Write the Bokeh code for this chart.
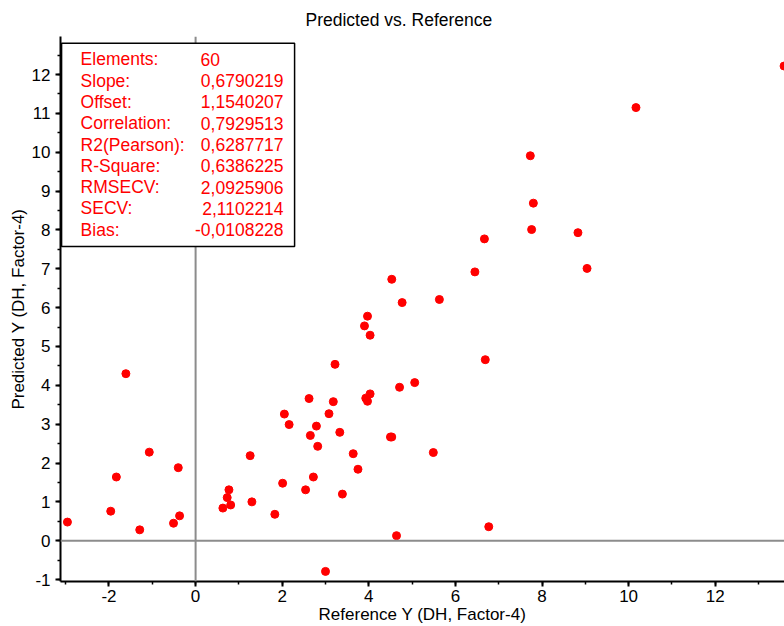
from bokeh.plotting import figure
from bokeh.models import (Span, BoxAnnotation, Label, SingleIntervalTicker, Range1d,
                          ColumnDataSource, CustomJSTickFormatter)
from bokeh.embed import file_html
from bokeh.resources import INLINE

# ---- data ----
reference_y = [-2.96, -1.96, -1.83, -1.61, -1.29, -1.07, -0.51, -0.40, -0.37, 0.63,
               0.73, 0.77, 0.81, 1.26, 1.30, 1.83, 2.01, 2.05, 2.16, 2.54,
               2.62, 2.65, 2.72, 2.79, 2.82, 3.08, 3.18, 3.22, 3.33, 3.39,
               3.00, 3.64, 3.75, 3.90, 3.97, 4.03, 3.93, 3.97, 4.03, 4.53,
               4.50, 4.53, 4.64, 4.71, 4.77, 5.63, 6.45, 9.04, 6.69, 5.06,
               5.49, 6.77, 13.59, 10.17, 7.73, 7.80, 7.76, 8.83, 6.67]
predicted_y = [0.48, 0.76, 1.64, 4.30, 0.28, 2.28, 0.45, 1.88, 0.64, 0.84,
               1.11, 1.31, 0.92, 2.19, 1.00, 0.68, 1.48, 3.26, 2.99, 1.31,
               3.66, 2.71, 1.64, 2.95, 2.43, 3.27, 3.58, 4.54, 2.79, 1.20,
               -0.79, 2.24, 1.84, 5.53, 5.78, 5.29, 3.67, 3.59, 3.78, 6.73,
               2.67, 2.67, 0.13, 3.95, 6.13, 6.21, 6.92, 7.01, 4.66, 4.07,
               2.27, 0.36, 12.22, 11.15, 9.91, 8.69, 8.01, 7.93, 7.77]

stat_names = ["Elements:", "Slope:", "Offset:", "Correlation:", "R2(Pearson):",
              "R-Square:", "RMSECV:", "SECV:", "Bias:"]
stat_values = ["60", "0,6790219", "1,1540207", "0,7929513", "0,6287717",
               "0,6386225", "2,0925906", "2,1102214", "-0,0108228"]

title_text = "Predicted vs. Reference"
x_label = "Reference Y (DH, Factor-4)"
y_label = "Predicted Y (DH, Factor-4)"

FONT = "Liberation Sans"

p = figure(width=784, height=626, output_backend="svg", toolbar_location=None,
           x_range=Range1d(-3.12, 13.6), y_range=Range1d(-1.05, 12.98),
           min_border_left=60, min_border_right=0, min_border_top=36, min_border_bottom=0,
           background_fill_color="white", border_fill_color="white")
p.outline_line_color = None
p.grid.visible = False

p.title.text = title_text
p.title.text_font = FONT
p.title.text_font_size = "17.5px"
p.title.text_font_style = "normal"
p.title.text_color = "black"
p.title.align = "left"
p.title.offset = 245
p.title.standoff = 13

p.xaxis.ticker = SingleIntervalTicker(interval=2, num_minor_ticks=2)
p.yaxis.ticker = SingleIntervalTicker(interval=1, num_minor_ticks=2)
p.xaxis.axis_label = x_label
p.yaxis.axis_label = y_label
for ax in (p.xaxis, p.yaxis):
    ax.formatter = CustomJSTickFormatter(code="return tick.toFixed(0);")
    ax.axis_line_width = 2
    ax.axis_line_color = "black"
    ax.major_tick_line_width = 2
    ax.minor_tick_line_width = 1.5
    ax.major_tick_out = 5
    ax.major_tick_in = 0
    ax.minor_tick_out = 3
    ax.minor_tick_in = 0
    ax.major_label_text_font = FONT
    ax.major_label_text_font_size = "17px"
    ax.major_label_text_color = "black"
    ax.axis_label_text_font = FONT
    ax.axis_label_text_font_size = "17px"
    ax.axis_label_text_font_style = "normal"
    ax.axis_label_text_color = "black"
p.xaxis.major_label_standoff = 3
p.xaxis.axis_label_standoff = 0
p.yaxis.major_label_standoff = 5
p.yaxis.axis_label_standoff = 1

# zero lines
p.add_layout(Span(location=0, dimension="height", line_color="#8c8c8c", line_width=2))
p.add_layout(Span(location=0, dimension="width", line_color="#8c8c8c", line_width=2))

src = ColumnDataSource(dict(x=reference_y, y=predicted_y))
p.scatter("x", "y", source=src, size=8, fill_color="#ff0000", line_color="#ff0000")

# statistics box
p.add_layout(BoxAnnotation(left=-3.095, right=2.286, bottom=7.573, top=12.806,
                           fill_color="white", fill_alpha=1.0,
                           line_color="black", line_width=1.5, line_alpha=1.0))
for i, (name, val) in enumerate(zip(stat_names, stat_values)):
    yy = 12.391 - 0.5482 * i
    p.add_layout(Label(x=-2.656, y=yy, text=name, text_color="#ff0000",
                       text_font=FONT, text_font_size="17.5px", text_baseline="middle",
                       text_align="left"))
    if i == 0:
        p.add_layout(Label(x=0.115, y=yy, text=val, text_color="#ff0000",
                           text_font=FONT, text_font_size="17.5px", text_baseline="middle",
                           text_align="left"))
    else:
        p.add_layout(Label(x=2.032, y=yy, text=val, text_color="#ff0000",
                           text_font=FONT, text_font_size="17.5px", text_baseline="middle",
                           text_align="right"))

open("out.html", "w").write(file_html(p, INLINE))
